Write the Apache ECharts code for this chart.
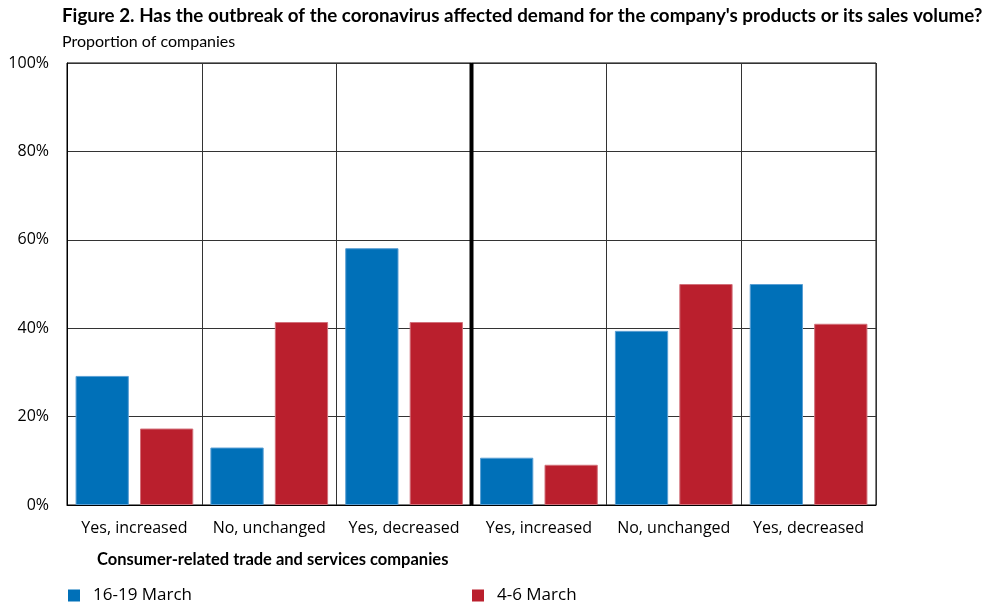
<!DOCTYPE html>
<html>
<head>
<meta charset="utf-8">
<script src="https://cdn.jsdelivr.net/npm/echarts@6/dist/echarts.min.js"></script>
<style>
  html, body { margin: 0; padding: 0; background: #fff; }
  #chart { width: 989px; height: 606px; }
</style>
</head>
<body>
<div id="chart"></div>
<script>
// Answer categories: consumer-related trade and services (left) and the comparison group (right)
const categories = ['Yes, increased', 'No, unchanged', 'Yes, decreased', 'Yes, increased', 'No, unchanged', 'Yes, decreased'];
// Share of companies, %
const march16to19 = [29.2, 13.0, 58.1, 10.7, 39.4, 50.0];
const march4to6 = [17.3, 41.4, 41.4, 9.1, 50.0, 41.0];
const yTicks = { min: 0, max: 100, interval: 20 };
// Divider between the two company groups, placed after the third category
const dividerAt = 3;

const BLUE = '#0070b8';
const RED = '#ba1f2d';
const labelFont = '"Open Sans", "Noto Sans", sans-serif';
const textFont = 'Lato, sans-serif';

const chart = echarts.init(document.getElementById('chart'), null, { renderer: 'canvas' });

chart.setOption({
  animation: false,
  backgroundColor: '#ffffff',
  title: [
    {
      text: "Figure 2. Has the outbreak of the coronavirus affected demand for the company's products or its sales volume?",
      left: 57, top: 1,
      textStyle: { fontFamily: textFont, fontWeight: 'bold', fontSize: 18.8, color: '#000' }
    },
    {
      text: 'Proportion of companies',
      left: 57, top: 29,
      textStyle: { fontFamily: textFont, fontWeight: 'normal', fontSize: 16, color: '#000' }
    },
    {
      text: 'Consumer-related trade and services companies',
      left: 92, top: 546,
      textStyle: { fontFamily: textFont, fontWeight: 'bold', fontSize: 16.5, color: '#000' }
    }
  ],
  legend: [
    {
      data: ['16-19 March'],
      left: 68, top: 587,
      padding: 0,
      itemWidth: 12, itemHeight: 12, itemGap: 0,
      icon: 'rect',
      itemStyle: { borderWidth: 0 },
      textStyle: { fontFamily: labelFont, fontSize: 17, color: '#000', padding: [0, 0, 0, 8] }
    },
    {
      data: ['4-6 March'],
      left: 472, top: 587,
      padding: 0,
      itemWidth: 12, itemHeight: 12, itemGap: 0,
      icon: 'rect',
      itemStyle: { borderWidth: 0 },
      textStyle: { fontFamily: labelFont, fontSize: 17, color: '#000', padding: [0, 0, 0, 8] }
    }
  ],
  grid: {
    left: 67, right: 113, top: 63, bottom: 101,
    show: true, borderColor: '#000', borderWidth: 1, backgroundColor: 'transparent'
  },
  xAxis: [
    {
      type: 'category',
      data: categories,
      boundaryGap: true,
      axisLine: { show: true, lineStyle: { color: '#000', width: 1 } },
      axisTick: { show: false },
      splitLine: { show: true, lineStyle: { color: '#333', width: 1 } },
      axisLabel: { fontFamily: labelFont, fontSize: 16, color: '#000', margin: 15, interval: 0 }
    },
    {
      // hidden linear scale spanning the categories, used for the group divider
      type: 'value',
      min: 0, max: categories.length,
      show: false
    }
  ],
  yAxis: {
    type: 'value',
    min: yTicks.min, max: yTicks.max, interval: yTicks.interval,
    axisLine: { show: true, lineStyle: { color: '#000' } },
    axisTick: { show: false },
    splitLine: { show: true, lineStyle: { color: '#333', width: 1 } },
    axisLabel: { formatter: '{value}%', fontFamily: labelFont, fontSize: 16, color: '#000', margin: 18 }
  },
  series: [
    {
      name: '16-19 March',
      type: 'bar',
      data: march16to19,
      barWidth: '39.5%',
      barGap: '21%',
      itemStyle: { color: BLUE, borderColor: '#5a9fd4', borderWidth: 1 }
    },
    {
      name: '4-6 March',
      type: 'bar',
      data: march4to6,
      barWidth: '39.5%',
      barGap: '21%',
      itemStyle: { color: RED, borderColor: '#d2707a', borderWidth: 1 }
    },
    {
      name: 'divider',
      type: 'line',
      xAxisIndex: 1,
      data: [[dividerAt, yTicks.min], [dividerAt, yTicks.max]],
      symbol: 'none',
      lineStyle: { color: '#000', width: 4 },
      silent: true,
      z: 5
    }
  ]
});
</script>
</body>
</html>
